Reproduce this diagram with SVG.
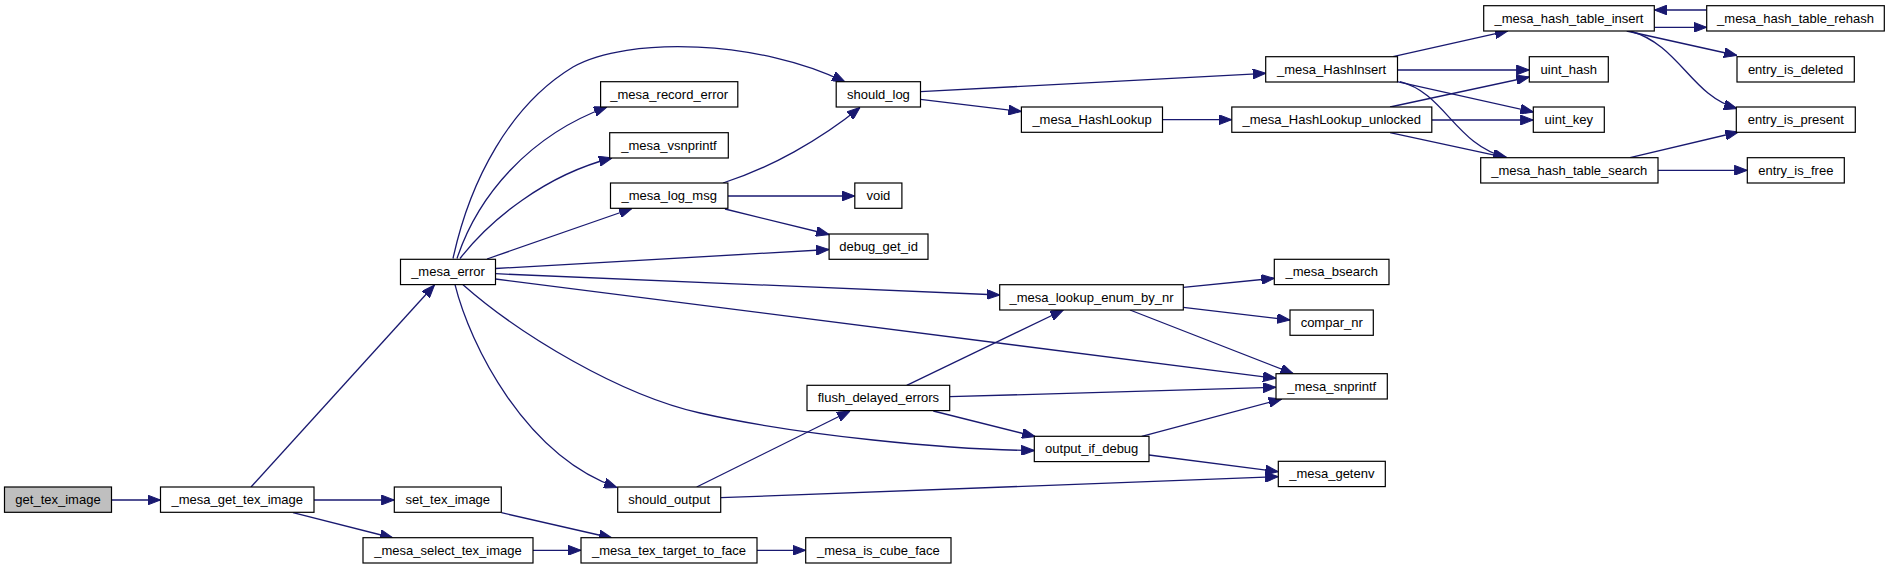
<svg xmlns="http://www.w3.org/2000/svg" width="1891" height="569" viewBox="0 0 1891 569">
<style>
.node rect{fill:#ffffff;stroke:#000000;stroke-width:1.2}
.node text{font-family:"Liberation Sans",Arial,sans-serif;font-size:13px;text-anchor:middle;fill:#000000}
#n_get_tex_image rect{fill:#bfbfbf}
.edge{fill:none;stroke:#191970;stroke-width:1.3;marker-end:url(#arr)}
</style>
<defs>
<marker id="arr" markerUnits="userSpaceOnUse" markerWidth="13" markerHeight="10" refX="13" refY="5" orient="auto">
<path d="M0,0 L13,5 L0,10 z" fill="#191970" stroke="#191970" stroke-width="1"/>
</marker>
</defs>
<rect width="1891" height="569" fill="#ffffff"/>
<g id="connectors">
<path class="edge" d="M111.5,500 L160.5,500"/>
<path class="edge" d="M251,487 L434.5,285"/>
<path class="edge" d="M314,500 L394.3,500"/>
<path class="edge" d="M293,512.7 L393,538"/>
<path class="edge" d="M501.4,512.7 L612,538"/>
<path class="edge" d="M533,550.3 L581,550.3"/>
<path class="edge" d="M757,550.3 L805.7,550.3"/>
<path class="edge" d="M453,258.5 C470,180 510,105 573,67 C628,36 760,40 845,82"/>
<path class="edge" d="M457,258.5 C478,195 530,135 607,107"/>
<path class="edge" d="M460,258.5 C490,220 545,175 612,158"/>
<path class="edge" d="M487,259 L632,208.5"/>
<path class="edge" d="M495.5,268.5 L829,249.5"/>
<path class="edge" d="M495.5,273.7 L999.7,295"/>
<path class="edge" d="M495.5,279 L1276,378.3"/>
<path class="edge" d="M455,284.7 C470,345 525,455 617,487.5"/>
<path class="edge" d="M463,284.7 C520,335 620,395 700,413 C800,435.5 950,450 1034.3,450.5"/>
<path class="edge" d="M920.5,91.7 L1265.7,73.3"/>
<path class="edge" d="M920.5,99.3 L1021.4,111.5"/>
<path class="edge" d="M723,183 C770,168 820,140 860,107.5"/>
<path class="edge" d="M728,196 L854.8,196"/>
<path class="edge" d="M725,209 L829,234.5"/>
<path class="edge" d="M1162.5,119.7 L1231.8,119.7"/>
<path class="edge" d="M1393,56.7 L1508,30.8"/>
<path class="edge" d="M1397.5,70 L1529.3,70"/>
<path class="edge" d="M1397,81.7 L1533.3,112"/>
<path class="edge" d="M1400,81.7 C1445,93 1455,145 1507,157.7"/>
<path class="edge" d="M1390,107 L1529.3,77"/>
<path class="edge" d="M1431.8,120 L1533.3,120"/>
<path class="edge" d="M1390,132.7 L1506,157.7"/>
<path class="edge" d="M1654.3,27.3 L1706.7,27.3"/>
<path class="edge" d="M1706.7,10 L1654.3,10"/>
<path class="edge" d="M1626.7,31 L1737,55.5"/>
<path class="edge" d="M1630,31 C1680,45 1690,95 1737,108.5"/>
<path class="edge" d="M1630,157.7 L1738.3,132"/>
<path class="edge" d="M1658,170.3 L1747.3,170.3"/>
<path class="edge" d="M1183.3,287.3 L1274.3,278.3"/>
<path class="edge" d="M1183.3,307.3 L1290,320"/>
<path class="edge" d="M1130,310 L1293.3,373.7"/>
<path class="edge" d="M906.7,385.3 L1063.3,310"/>
<path class="edge" d="M949.7,396.7 L1276,387.3"/>
<path class="edge" d="M933.3,411 L1035,436.5"/>
<path class="edge" d="M696.7,487 L850,411"/>
<path class="edge" d="M720.7,497.7 L1278.3,476.7"/>
<path class="edge" d="M1141.7,436.3 L1281.7,399"/>
<path class="edge" d="M1149,455 L1278.3,471.7"/>
</g>
<g id="n_get_tex_image" class="node"><rect x="4.5" y="487" width="107" height="25.3"/><text x="58" y="503.8">get_tex_image</text></g>
<g id="n_mesa_get_tex_image" class="node"><rect x="160.5" y="487" width="153.5" height="25.3"/><text x="237.3" y="503.8">_mesa_get_tex_image</text></g>
<g id="n_set_tex_image" class="node"><rect x="394.3" y="487" width="107" height="25.3"/><text x="447.8" y="503.8">set_tex_image</text></g>
<g id="n_mesa_select_tex_image" class="node"><rect x="363" y="537.7" width="170" height="25.3"/><text x="448" y="554.5">_mesa_select_tex_image</text></g>
<g id="n_mesa_error" class="node"><rect x="400.5" y="259.3" width="95" height="25.3"/><text x="448" y="276.1">_mesa_error</text></g>
<g id="n_mesa_record_error" class="node"><rect x="600.6" y="81.7" width="137.2" height="25.3"/><text x="669.2" y="98.5">_mesa_record_error</text></g>
<g id="n_mesa_vsnprintf" class="node"><rect x="609.7" y="132.7" width="118.6" height="25.3"/><text x="669" y="149.5">_mesa_vsnprintf</text></g>
<g id="n_mesa_log_msg" class="node"><rect x="610.5" y="183" width="117.4" height="25.3"/><text x="669.2" y="199.8">_mesa_log_msg</text></g>
<g id="n_should_output" class="node"><rect x="617.7" y="487" width="103" height="25.3"/><text x="669.2" y="503.8">should_output</text></g>
<g id="n_mesa_tex_target_to_face" class="node"><rect x="581" y="537.7" width="176" height="25.3"/><text x="669" y="554.5">_mesa_tex_target_to_face</text></g>
<g id="n_should_log" class="node"><rect x="836.2" y="81.7" width="84.3" height="25.3"/><text x="878.4" y="98.5">should_log</text></g>
<g id="n_void" class="node"><rect x="854.8" y="183" width="47.1" height="25.3"/><text x="878.4" y="199.8">void</text></g>
<g id="n_debug_get_id" class="node"><rect x="829.1" y="234" width="98.9" height="25.3"/><text x="878.6" y="250.8">debug_get_id</text></g>
<g id="n_flush_delayed_errors" class="node"><rect x="807" y="385.3" width="142.7" height="25.3"/><text x="878.4" y="402.1">flush_delayed_errors</text></g>
<g id="n_mesa_is_cube_face" class="node"><rect x="805.7" y="537.7" width="145.3" height="25.3"/><text x="878.4" y="554.5">_mesa_is_cube_face</text></g>
<g id="n_mesa_lookup_enum_by_nr" class="node"><rect x="999.7" y="284.7" width="183.6" height="25.3"/><text x="1091.5" y="301.5">_mesa_lookup_enum_by_nr</text></g>
<g id="n_output_if_debug" class="node"><rect x="1034.3" y="436.3" width="114.7" height="25.3"/><text x="1091.7" y="453.1">output_if_debug</text></g>
<g id="n_mesa_HashLookup" class="node"><rect x="1021.4" y="107" width="141.1" height="25.3"/><text x="1092" y="123.8">_mesa_HashLookup</text></g>
<g id="n_mesa_HashInsert" class="node"><rect x="1265.7" y="56.7" width="131.8" height="25.3"/><text x="1331.6" y="73.5">_mesa_HashInsert</text></g>
<g id="n_mesa_HashLookup_unlocked" class="node"><rect x="1231.8" y="107" width="200" height="25.3"/><text x="1331.8" y="123.8">_mesa_HashLookup_unlocked</text></g>
<g id="n_mesa_bsearch" class="node"><rect x="1274.3" y="259.3" width="114.7" height="25.3"/><text x="1331.7" y="276.1">_mesa_bsearch</text></g>
<g id="n_compar_nr" class="node"><rect x="1290" y="310" width="83.3" height="25.3"/><text x="1331.7" y="326.8">compar_nr</text></g>
<g id="n_mesa_snprintf" class="node"><rect x="1276" y="373.7" width="111.3" height="25.3"/><text x="1331.7" y="390.5">_mesa_snprintf</text></g>
<g id="n_mesa_getenv" class="node"><rect x="1278.3" y="461.3" width="107" height="25.3"/><text x="1331.8" y="478.1">_mesa_getenv</text></g>
<g id="n_mesa_hash_table_insert" class="node"><rect x="1483.7" y="5.7" width="170.6" height="25.3"/><text x="1569" y="22.5">_mesa_hash_table_insert</text></g>
<g id="n_uint_hash" class="node"><rect x="1529.3" y="56.7" width="79" height="25.3"/><text x="1568.8" y="73.5">uint_hash</text></g>
<g id="n_uint_key" class="node"><rect x="1533.3" y="107" width="71" height="25.3"/><text x="1568.8" y="123.8">uint_key</text></g>
<g id="n_mesa_hash_table_search" class="node"><rect x="1480.7" y="157.7" width="177.3" height="25.3"/><text x="1569.3" y="174.5">_mesa_hash_table_search</text></g>
<g id="n_mesa_hash_table_rehash" class="node"><rect x="1706.7" y="5.7" width="177.6" height="25.3"/><text x="1795.5" y="22.5">_mesa_hash_table_rehash</text></g>
<g id="n_entry_is_deleted" class="node"><rect x="1737" y="56.7" width="117.3" height="25.3"/><text x="1795.6" y="73.5">entry_is_deleted</text></g>
<g id="n_entry_is_present" class="node"><rect x="1736.3" y="107" width="119" height="25.3"/><text x="1795.8" y="123.8">entry_is_present</text></g>
<g id="n_entry_is_free" class="node"><rect x="1747.3" y="157.7" width="97" height="25.3"/><text x="1795.8" y="174.5">entry_is_free</text></g>
</svg>
